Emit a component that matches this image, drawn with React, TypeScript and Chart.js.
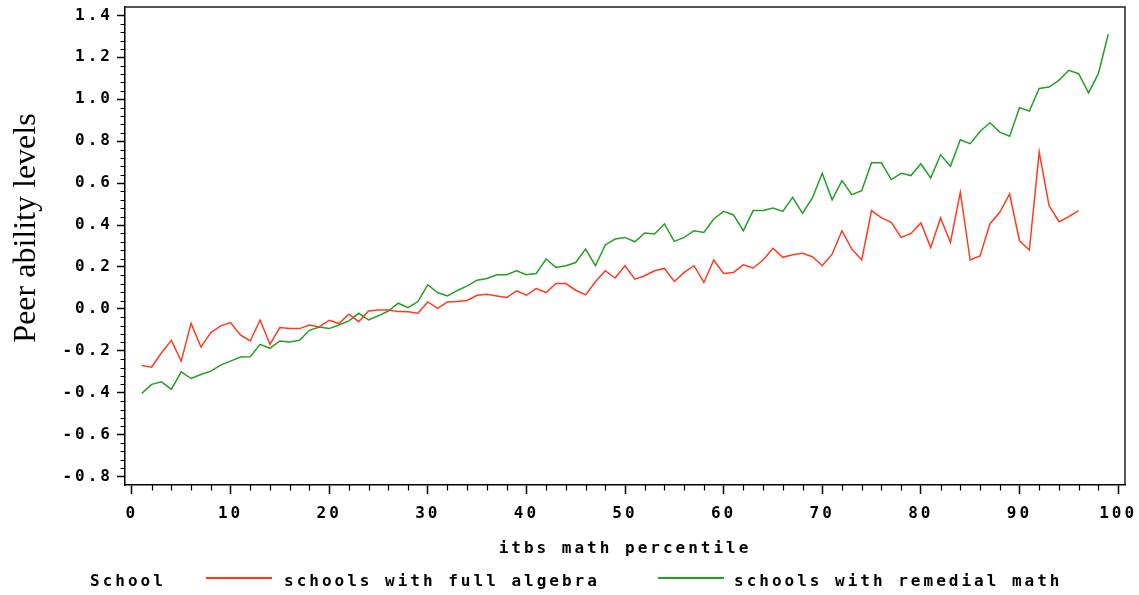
import React, { useEffect, useRef } from 'react';
import { Chart, registerables } from 'chart.js';

Chart.register(...registerables);

// ---------- data ----------
const percentiles: number[] = Array.from({ length: 99 }, (_, i) => i + 1);

const fullAlgebra: number[] = [
  -0.27, -0.278, -0.209, -0.15, -0.249, -0.069, -0.182, -0.113, -0.081, -0.065,
  -0.124, -0.153, -0.053, -0.169, -0.089, -0.094, -0.094, -0.077, -0.086, -0.054,
  -0.07, -0.025, -0.061, -0.01, -0.005, -0.005, -0.013, -0.014, -0.021, 0.033,
  0.002, 0.033, 0.035, 0.04, 0.065, 0.07, 0.062, 0.054, 0.086, 0.065,
  0.097, 0.078, 0.121, 0.121, 0.089, 0.067, 0.129, 0.182, 0.147, 0.206,
  0.142, 0.158, 0.182, 0.193, 0.131, 0.174, 0.206, 0.126, 0.233, 0.169,
  0.174, 0.21, 0.195, 0.233, 0.289, 0.246, 0.258, 0.265, 0.249, 0.206,
  0.261, 0.373, 0.285, 0.234, 0.469, 0.434, 0.413, 0.341, 0.36, 0.41,
  0.293, 0.434, 0.317, 0.556, 0.233, 0.253, 0.405, 0.461, 0.548, 0.325,
  0.281, 0.748, 0.493, 0.416, 0.44, 0.469,
];

const remedialMath: number[] = [
  -0.403, -0.36, -0.348, -0.384, -0.3, -0.332, -0.313, -0.297, -0.268, -0.249,
  -0.23, -0.228, -0.169, -0.188, -0.153, -0.158, -0.15, -0.102, -0.086, -0.094,
  -0.077, -0.057, -0.021, -0.053, -0.033, -0.01, 0.027, 0.006, 0.035, 0.115,
  0.078, 0.062, 0.088, 0.11, 0.137, 0.145, 0.163, 0.163, 0.182, 0.163,
  0.169, 0.238, 0.198, 0.206, 0.221, 0.285, 0.206, 0.305, 0.333, 0.341,
  0.32, 0.362, 0.357, 0.405, 0.322, 0.341, 0.373, 0.365, 0.429, 0.465,
  0.448, 0.373, 0.469, 0.469, 0.481, 0.465, 0.532, 0.456, 0.529, 0.647,
  0.52, 0.612, 0.545, 0.564, 0.697, 0.697, 0.617, 0.647, 0.636, 0.692,
  0.625, 0.735, 0.68, 0.807, 0.788, 0.846, 0.888, 0.843, 0.824, 0.96,
  0.944, 1.051, 1.058, 1.09, 1.138, 1.122, 1.03, 1.122, 1.31,
];

const xTickValues: number[] = [0, 10, 20, 30, 40, 50, 60, 70, 80, 90, 100];
const yTickValues: number[] = [-0.8, -0.6, -0.4, -0.2, 0, 0.2, 0.4, 0.6, 0.8, 1.0, 1.2, 1.4];
const xMinorStep = 2;
const yMinorStep = 0.04;

const seriesLabels: string[] = ['schools with full algebra', 'schools with remedial math'];
const seriesColors: string[] = ['#ff3b1f', '#22a022'];
const legendTitle = 'School';
const xTitle = 'itbs math percentile';
const yTitle = 'Peer ability levels';

const MONO = '"DejaVu Sans Mono", "Liberation Mono", monospace';
const SPACING = '3px';
const FONT_SIZE = 16;

// ---------- plugins ----------
const spacingPlugin = {
  id: 'spacing',
  beforeUpdate(chart: any) {
    chart.ctx.letterSpacing = SPACING;
  },
  beforeDraw(chart: any) {
    chart.ctx.letterSpacing = SPACING;
  },
};

const framePlugin = {
  id: 'frameAndExtras',
  afterDraw(chart: any) {
    const ctx = chart.ctx as CanvasRenderingContext2D;
    const { left, right, top, bottom } = chart.chartArea;
    const xs = chart.scales.x;
    const ys = chart.scales.y;
    ctx.save();
    // frame top & right
    ctx.strokeStyle = '#222';
    ctx.lineWidth = 1.5;
    ctx.beginPath();
    ctx.moveTo(left, top);
    ctx.lineTo(right, top);
    ctx.lineTo(right, bottom);
    ctx.stroke();

    // minor ticks
    ctx.strokeStyle = '#000';
    ctx.lineWidth = 1.2;
    ctx.beginPath();
    const xMin = xTickValues[0];
    const xMax = xTickValues[xTickValues.length - 1];
    for (let i = 0; xMin + i * xMinorStep <= xMax + 1e-9; i++) {
      const v = xMin + i * xMinorStep;
      if (xTickValues.some((t) => Math.abs(t - v) < 1e-6)) continue;
      const px = Math.round(xs.getPixelForValue(v)) + 0.5;
      ctx.moveTo(px, bottom);
      ctx.lineTo(px, bottom + 5.5);
    }
    const yMin = yTickValues[0];
    const yMax = yTickValues[yTickValues.length - 1];
    for (let i = 0; yMin + i * yMinorStep <= yMax + 1e-9; i++) {
      const v = yMin + i * yMinorStep;
      if (yTickValues.some((t) => Math.abs(t - v) < 1e-6)) continue;
      const py = Math.round(ys.getPixelForValue(v)) + 0.5;
      ctx.moveTo(left, py);
      ctx.lineTo(left - 4.5, py);
    }
    ctx.stroke();

    // y-axis title
    ctx.letterSpacing = '0px';
    ctx.fillStyle = '#000';
    ctx.font = '32px "Liberation Serif", "Times New Roman", serif';
    ctx.translate(35, 228);
    ctx.rotate(-Math.PI / 2);
    ctx.textAlign = 'center';
    ctx.textBaseline = 'alphabetic';
    ctx.fillText(yTitle, 0, 0);
    ctx.restore();

    // legend
    ctx.save();
    ctx.letterSpacing = SPACING;
    ctx.font = `bold ${FONT_SIZE}px ${MONO}`;
    ctx.fillStyle = '#000';
    ctx.textAlign = 'left';
    ctx.textBaseline = 'alphabetic';
    const baseY = 586;
    ctx.fillText(legendTitle, 90, baseY);
    const entries = [
      { lx: 206, tx: 284 },
      { lx: 658, tx: 734 },
    ];
    chart.data.datasets.forEach((ds: any, i: number) => {
      const e = entries[i];
      ctx.strokeStyle = ds.borderColor;
      ctx.lineWidth = 2;
      ctx.beginPath();
      ctx.moveTo(e.lx, 578);
      ctx.lineTo(e.lx + 66, 578);
      ctx.stroke();
      ctx.fillText(ds.label, e.tx, baseY);
    });
    ctx.restore();
  },
};

export default function App() {
  const canvasRef = useRef<HTMLCanvasElement | null>(null);

  useEffect(() => {
    document.body.style.margin = '0';
    const canvas = canvasRef.current;
    if (!canvas) return;

    const chart = new Chart(canvas, {
      type: 'line',
      data: {
        datasets: [
          {
            label: seriesLabels[0],
            data: fullAlgebra.map((v, i) => ({ x: percentiles[i], y: v })),
            borderColor: seriesColors[0],
            backgroundColor: seriesColors[0],
            borderWidth: 1.5,
            pointRadius: 0,
            tension: 0,
            fill: false,
          },
          {
            label: seriesLabels[1],
            data: remedialMath.map((v, i) => ({ x: percentiles[i], y: v })),
            borderColor: seriesColors[1],
            backgroundColor: seriesColors[1],
            borderWidth: 1.5,
            pointRadius: 0,
            tension: 0,
            fill: false,
          },
        ],
      },
      options: {
        responsive: false,
        animation: false,
        devicePixelRatio: 1,
        layout: { padding: { top: 7, right: 14, left: 0, bottom: 0 } },
        plugins: {
          legend: { display: false },
          tooltip: { enabled: false },
          title: { display: false },
        },
        scales: {
          x: {
            type: 'linear',
            min: -0.7,
            max: 100.7,
            afterBuildTicks: (scale: any) => {
              scale.ticks = xTickValues.map((v) => ({ value: v }));
            },
            afterFit: (scale: any) => {
              scale.height = 110;
              scale.paddingLeft = 0;
              scale.paddingRight = 0;
            },
            grid: {
              display: true,
              drawOnChartArea: false,
              drawTicks: true,
              tickLength: 9,
              tickColor: '#000',
              tickWidth: 1.5,
            },
            border: { display: true, color: '#000', width: 1.5 },
            ticks: {
              autoSkip: false,
              maxRotation: 0,
              padding: 10,
              color: '#000',
              font: { family: MONO, size: FONT_SIZE, weight: 'bold' },
              callback: (v: any) => String(v),
            },
            title: {
              display: true,
              text: xTitle,
              color: '#000',
              font: { family: MONO, size: FONT_SIZE, weight: 'bold' },
              padding: { top: 0, bottom: 37 },
            },
          },
          y: {
            type: 'linear',
            min: -0.84,
            max: 1.44,
            afterBuildTicks: (scale: any) => {
              scale.ticks = yTickValues.map((v) => ({ value: v }));
            },
            afterFit: (scale: any) => {
              scale.width = 125;
              scale.paddingTop = 0;
              scale.paddingBottom = 0;
            },
            grid: {
              display: true,
              drawOnChartArea: false,
              drawTicks: true,
              tickLength: 8,
              tickColor: '#000',
              tickWidth: 1.5,
            },
            border: { display: true, color: '#000', width: 1.5 },
            ticks: {
              autoSkip: false,
              padding: 4,
              color: '#000',
              font: { family: MONO, size: FONT_SIZE, weight: 'bold' },
              callback: (v: any) => Number(v).toFixed(1),
            },
          },
        },
      } as any,
      plugins: [spacingPlugin, framePlugin],
    });

    return () => {
      chart.destroy();
    };
  }, []);

  return (
    <div style={{ width: 1139, height: 595 }}>
      <canvas ref={canvasRef} width={1139} height={595} style={{ display: 'block' }} />
    </div>
  );
}
